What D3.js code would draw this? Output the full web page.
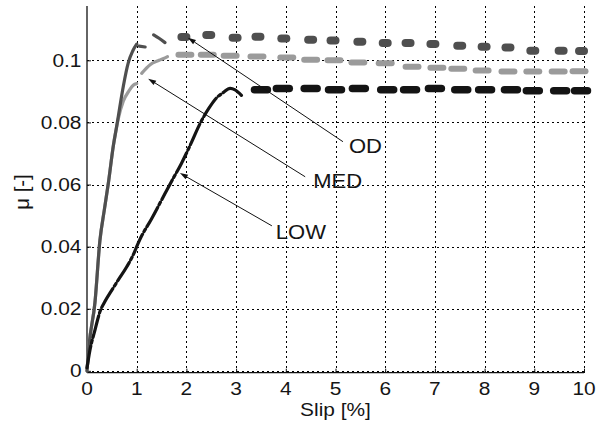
<!DOCTYPE html>
<html>
<head>
<meta charset="utf-8">
<script src="https://cdn.jsdelivr.net/npm/d3@7"></script>
<style>
  html, body { margin: 0; padding: 0; background: #fff; }
  svg { display: block; }
  text { font-family: "Liberation Sans", Arial, Helvetica, sans-serif; fill: #151515; }
</style>
</head>
<body>
<svg id="chart" width="607" height="426"></svg>
<script>
// ---------------- data ----------------
const xTicks = [0, 1, 2, 3, 4, 5, 6, 7, 8, 9, 10];
const xTickLabels = ["0", "1", "2", "3", "4", "5", "6", "7", "8", "9", "10"];
const yTicks = [0, 0.02, 0.04, 0.06, 0.08, 0.1];
const yTickLabels = ["0", "0.02", "0.04", "0.06", "0.08", "0.1"];
const xLabel = "Slip [%]";
const yLabel = "\u03BC [-]";

// continuous parts of each series: [slip %, mu]
const odSegments = [
  [[0, 0], [0.04, 0.008], [0.16, 0.022], [0.26, 0.042], [0.35, 0.052], [0.43, 0.0605],
   [0.53, 0.0725], [0.6, 0.079], [0.66, 0.085], [0.73, 0.0916], [0.83, 0.0992],
   [0.92, 0.103], [1.0, 0.1052]],
  [[1.05, 0.1046], [1.17, 0.1043]],
  [[1.34, 0.1082], [1.45, 0.1071], [1.57, 0.1057]]
];
const medSegments = [
  [[0, 0], [0.04, 0.008], [0.16, 0.022], [0.26, 0.042], [0.35, 0.052], [0.43, 0.0605],
   [0.53, 0.0725], [0.58, 0.0772], [0.63, 0.0812], [0.73, 0.0868], [0.85, 0.0903],
   [0.93, 0.092], [1.0, 0.0925]],
  [[1.1, 0.0958], [1.27, 0.0986], [1.45, 0.1], [1.57, 0.1008], [1.62, 0.1012]]
];
const lowSegments = [
  [[0, 0.001], [0.03, 0.004], [0.06, 0.0067], [0.16, 0.0131], [0.26, 0.019], [0.36, 0.0223],
   [0.5, 0.026], [0.63, 0.0293], [0.8, 0.0335], [0.97, 0.0388], [1.0, 0.040], [1.07, 0.0425],
   [1.3, 0.049], [1.5, 0.055], [1.7, 0.061], [1.9, 0.0668], [2.1, 0.0735], [2.27, 0.0795],
   [2.45, 0.0845], [2.6, 0.0878], [2.74, 0.0896], [2.88, 0.091], [2.98, 0.0905], [3.12, 0.0885]]
];

// scattered clusters on the plateau
const odClusterX = [1.95, 2.45, 2.98, 3.44, 3.96, 4.5, 4.95, 5.49, 6.0, 6.46, 6.96, 7.5, 7.99, 8.47, 8.97, 9.54, 9.95];
const odClusterY = [0.1075, 0.1082, 0.1073, 0.1076, 0.107, 0.1066, 0.1064, 0.106, 0.1056, 0.1056, 0.1053, 0.1047, 0.1044, 0.1041, 0.1031, 0.1031, 0.103];
const medClusterX = [1.97, 2.42, 2.88, 3.42, 4.02, 4.5, 4.97, 5.45, 6.0, 6.54, 7.04, 7.46, 7.95, 8.47, 8.97, 9.48, 9.9];
const medClusterY = [0.1018, 0.1018, 0.1015, 0.1012, 0.1009, 0.1002, 0.1, 0.0993, 0.0991, 0.0979, 0.0976, 0.0973, 0.0967, 0.0964, 0.0964, 0.0964, 0.0965];
const lowClusterX = [3.5, 3.94, 4.5, 4.99, 5.47, 6.04, 6.5, 7.0, 7.53, 8.01, 8.53, 8.97, 9.52, 9.94];
const lowClusterY = [0.0905, 0.0909, 0.0909, 0.0905, 0.0909, 0.0905, 0.0905, 0.0909, 0.0905, 0.0905, 0.0905, 0.0902, 0.0902, 0.0902];

// annotations (data coordinates)
const annLabels = ["OD", "MED", "LOW"];
const annTipX = [2.03, 1.23, 1.87];
const annTipY = [0.1073, 0.0941, 0.0637];
const annStartX = [5.15, 4.39, 3.72];
const annStartY = [0.0738, 0.0625, 0.0467];
const annTextX = [5.27, 4.55, 3.80];
const annTextY = [0.0702, 0.0589, 0.0425];

// ---------------- drawing ----------------
const svg = d3.select("#chart");
const x = d3.scaleLinear().domain([0, 10]).range([87, 584]);
const y = d3.scaleLinear().domain([-0.0006, 0.1175]).range([372.7, 6]);
const FS = 18.5, SX = 1.13;

// grid
const grid = svg.append("g").attr("stroke", "#000").attr("stroke-width", 1)
  .attr("stroke-dasharray", "2,3").attr("shape-rendering", "crispEdges");
grid.selectAll(".gx").data(xTicks.slice(1)).join("line")
  .attr("x1", d => Math.round(x(d)) + 0.5).attr("x2", d => Math.round(x(d)) + 0.5)
  .attr("y1", Math.round(y.range()[0])).attr("y2", Math.round(y.range()[1]));
grid.selectAll(".gy").data(yTicks).join("line")
  .attr("y1", d => Math.round(y(d)) + 0.5).attr("y2", d => Math.round(y(d)) + 0.5)
  .attr("x1", Math.round(x.range()[0])).attr("x2", Math.round(x.range()[1]));

// axes
const xAxis = d3.axisBottom(x).tickValues(xTicks).tickSize(-4).tickFormat((d, i) => xTickLabels[i]);
const yAxis = d3.axisLeft(y).tickValues(yTicks).tickSize(-4).tickFormat((d, i) => yTickLabels[i]);
const gx = svg.append("g").attr("transform", `translate(0,${y.range()[0]})`).call(xAxis);
const gy = svg.append("g").attr("transform", `translate(${x.range()[0]},0)`).call(yAxis);
[gx, gy].forEach(g => {
  g.select(".domain").attr("stroke", "#111").attr("stroke-width", 1.3);
  g.selectAll(".tick line").attr("stroke", "#111");
  g.selectAll(".tick text").remove();
});
gx.select(".domain").attr("d", `M${x.range()[0]},0H${x.range()[1]}`);
gy.select(".domain").attr("d", `M0,${y.range()[0]}V${y.range()[1]}`);

// tick labels (horizontally stretched like the reference)
svg.append("g").selectAll("text").data(xTicks).join("text")
  .attr("transform", d => `translate(${x(d)},395) scale(${SX},1)`)
  .attr("text-anchor", "middle").attr("font-size", FS)
  .text((d, i) => xTickLabels[i]);
svg.append("g").selectAll("text").data(yTicks).join("text")
  .attr("transform", d => `translate(81.5,${y(d) + 6.6}) scale(${SX},1)`)
  .attr("text-anchor", "end").attr("font-size", FS)
  .text((d, i) => yTickLabels[i]);

svg.append("text").attr("transform", `translate(${(x.range()[0] + x.range()[1]) / 2},416) scale(${SX},1)`)
  .attr("text-anchor", "middle").attr("font-size", FS).text(xLabel);
svg.append("text").attr("transform", `translate(29,192) rotate(-90) scale(1.1,${SX})`)
  .attr("text-anchor", "middle").attr("font-size", FS).text(yLabel);

// series
const line = d3.line().x(d => x(d[0])).y(d => y(d[1])).curve(d3.curveMonotoneX);
function drawSegments(segs, color, width, dash) {
  svg.append("g").selectAll("path").data(segs).join("path")
    .attr("d", line).attr("fill", "none").attr("stroke", color)
    .attr("stroke-width", width).attr("stroke-linecap", "round").attr("stroke-linejoin", "round")
    .attr("stroke-dasharray", dash || null);
}
function drawClusters(xs, ys, color, halfLen, width) {
  svg.append("g").selectAll("line").data(xs).join("line")
    .attr("x1", (d) => x(d - halfLen)).attr("x2", (d) => x(d + halfLen))
    .attr("y1", (d, i) => y(ys[i])).attr("y2", (d, i) => y(ys[i]))
    .attr("stroke", color).attr("stroke-width", width).attr("stroke-linecap", "round");
}
const cMed = "#9b9b9b", cOd = "#4f4f4f", cLow = "#141414";
drawSegments(medSegments, cMed, 3.2);
drawClusters(medClusterX, medClusterY, cMed, 0.13, 6);
drawSegments(odSegments, cOd, 3.2);
drawClusters(odClusterX, odClusterY, cOd, 0.05, 8);
drawSegments(lowSegments, cLow, 3.2, "22,3,3,3");
drawClusters(lowClusterX, lowClusterY, cLow, 0.13, 7.5);

// annotations
const ann = svg.append("g");
annLabels.forEach((lab, i) => {
  const x0 = x(annStartX[i]), y0 = y(annStartY[i]);
  const x1 = x(annTipX[i]), y1 = y(annTipY[i]);
  const ang = Math.atan2(y1 - y0, x1 - x0);
  const L = 8, W = 2.6;
  const bx = x1 - L * Math.cos(ang), by = y1 - L * Math.sin(ang);
  ann.append("line").attr("x1", x0).attr("y1", y0).attr("x2", bx).attr("y2", by)
    .attr("stroke", "#111").attr("stroke-width", 1);
  ann.append("path")
    .attr("d", `M${x1},${y1}L${bx - W * Math.sin(ang)},${by + W * Math.cos(ang)}L${bx + W * Math.sin(ang)},${by - W * Math.cos(ang)}Z`)
    .attr("fill", "#111");
  ann.append("text")
    .attr("transform", `translate(${x(annTextX[i])},${y(annTextY[i])}) scale(${SX},1)`)
    .attr("font-size", 19.5).text(lab);
});
</script>
</body>
</html>
